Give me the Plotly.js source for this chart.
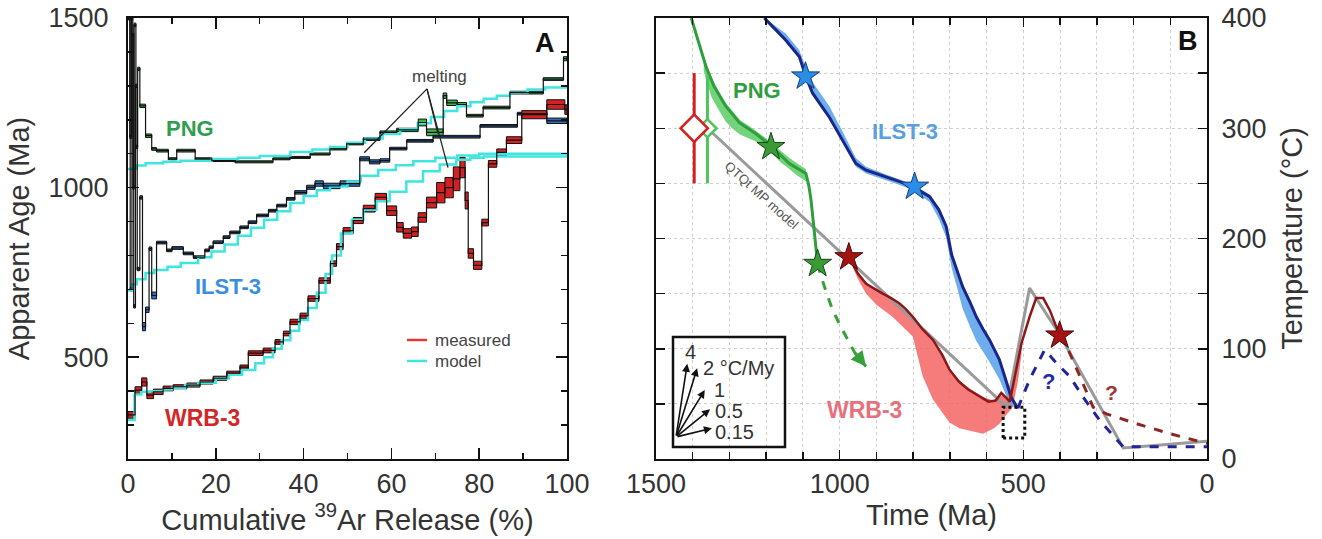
<!DOCTYPE html>
<html><head><meta charset="utf-8">
<script src="https://cdn.plot.ly/plotly-3.0.1.min.js"></script>
<style>html,body{margin:0;padding:0;background:#fff}#chart{width:1322px;height:539px}</style>
</head><body><div id="chart"></div>
<script>
// ================= Panel A : 40Ar/39Ar age spectra =================
// step boundaries (cumulative 39Ar %), apparent ages (Ma), box half-heights (Ma)
const pngEdges = [0,0.4,0.8,1.1,1.4,1.8,2.2,2.7,4.0,5.4,6.5,9.2,11.1,15.3,19.1,24.4,33.0,36.9,41.5,46.0,49.8,53.6,57.4,61.2,66.1,68.0,71.8,72.6,75.0,77.1,80.9,87.0,94.6,99.2,100];
const pngAges  = [1500,1150,1500,1000,1480,1120,1350,1241,1153,1114,1109,1085,1109,1085,1080,1076,1085,1089,1099,1114,1129,1143,1163,1170,1192,1163,1271,1250,1245,1212,1236,1280,1320,1380];
const pngErrs  = [5,5,5,5,5,5,5,5,5,4,4,3,4,3,3,3,3,3,3,3,3,4,4,5,10,10,8,8,6,4,4,4,4,6];

const ilstEdges = [0,0.5,0.9,1.3,1.7,2.1,2.7,3.3,4.0,4.8,5.4,6.5,8.8,10.0,12.6,14.9,17.5,18.5,19.4,21.7,23.2,25.5,27.4,29.3,32.0,33.9,36.1,38.0,40.7,42.6,44.5,48.3,52.8,55.0,57.4,59.6,63.5,69.5,80.2,88.7,95.4,100];
const ilstAges  = [1500,700,1450,650,1300,760,971,590,640,820,682,838,815,822,806,795,815,824,839,854,868,883,898,918,932,947,967,986,1001,1012,1005,1012,1085,1076,1080,1115,1138,1150,1182,1218,1197];
const ilstErrs  = [5,5,5,5,5,5,5,12,8,5,10,4,4,4,4,4,4,4,4,4,4,4,4,4,4,4,4,5,6,8,8,8,6,6,5,4,4,4,4,4,8];

const wrbEdges = [0,1.6,3.1,4.3,5.8,8.0,10.3,13.4,16.4,19.4,22.5,25.5,27.4,30.8,33.5,35.4,36.9,39.2,41.0,43.5,46.1,47.5,49.0,51.3,53.6,56.3,58.9,61.2,62.7,64.6,66.1,68.0,70.3,72.2,74.1,75.6,76.8,77.5,78.7,80.6,82.1,84.0,86.2,89.7,95.4,99.5,100];
const wrbAges  = [330,403,427,388,398,408,413,418,427,438,453,471,512,520,545,570,604,622,673,726,776,826,873,903,938,971,932,883,865,870,912,956,985,1000,1026,1059,962,806,771,897,1070,1104,1140,1215,1245,1230];
const wrbErrs  = [10,10,12,10,8,7,6,6,6,6,6,6,7,7,7,7,8,8,8,8,8,9,9,9,10,12,14,14,14,14,14,16,30,30,35,30,25,14,12,10,10,10,10,12,14,14];

// model spectra
const pngModelX  = [0,2,4,8,12,19,25,30,37,42,46,50,54,58,62,66,69,72,75,78,81,84,87,91,95,100];
const pngModelY  = [1055,1065,1072,1076,1079,1084,1088,1093,1105,1112,1120,1132,1145,1158,1172,1190,1208,1226,1240,1252,1262,1271,1280,1289,1295,1300];
const ilstModelX = [0,1,2,4,6,9,12,16,19,22,25,28,31,34,37,40,43,46,50,53,57,61,65,70,75,80,100];
const ilstModelY = [697,715,730,748,757,767,778,795,812,832,858,882,905,930,955,975,992,1003,1018,1035,1052,1066,1078,1088,1095,1100,1102];
const wrbModelX  = [0,1.5,3,5,8,10,13,16,20,23,26,29,31,33,35,37,39,41,43,45,46.5,48.5,51,53.6,56.6,59.6,63.4,67.2,71,74.8,78,81,100];
const wrbModelY  = [315,390,398,400,405,410,418,425,437,448,462,482,500,525,550,578,610,645,690,745,800,865,905,935,960,988,1018,1048,1068,1082,1088,1092,1092];

// "melting" pointer: label anchor and targets (cum %, Ma)
const meltApex    = [68.1, 1291];
const meltTargetX = [53.8, 70.6, 72.9];
const meltTargetY = [1103, 1159, 1059];

// ================= Panel B : thermal histories =================
const pngT   = [1404,1383,1364,1342,1310,1273,1228,1187,1137,1092,1084,1078,1069,1060];
const pngC   = [400,377,356,338,320,305,295,284,268,259,248,235,205,177];
const pngBandT  = [1370,1350,1330,1310,1290,1270,1250,1228,1205,1187,1160,1137,1115,1092];
const pngBandHi = [365,347,334,323,315,307,303,298,292,287,279,273,268,263];
const pngBandLo = [352,329,317,306,299,294,291,288,283,278,269,263,257,252];
const pngDashT = [1060,1050,1035,1019,1000,983,960,940,928];
const pngDashC = [177,165,150,135,122,111,97,88,84];

const ilstT  = [1205,1175,1147,1110,1092,1074,1050,1028,992,956,928,900,874,840,801,755,730,710,695,680,665,645,628,610,592,565,546,533,515];
const ilstC  = [400,390,380,365,347,332,320,310,289,268,262,259,256,252,247,238,226,211,185,170,156,142,129,118,108,90,69,56,46];
const ilstBandHi = [400,393,386,371,355,342,330,320,297,273,265,261,258,254,249,240,228,213,187,172,158,144,131,120,110,92,71,58,46];
const ilstBandLo = [398,388,378,363,345,330,318,308,286,265,259,256,253,249,244,233,218,201,173,155,136,120,107,98,88,72,57,48,46];
const ilstDashT = [515,483,442,410,374,337,292,228,0];
const ilstDashC = [46,72,99,87,75,56,35,11,11];

const wrbT   = [975,950,928,905,883,860,837,820,801,775,746,720,701,675,650,620,595,575,560,548,537,523,505,483,465,455,446,428,401];
const wrbC   = [183,168,159,154,150,146,141,136,129,118,108,94,81,70,63,57,52,53,60,56,52,75,105,129,146,146,146,135,112];
const wrbBandT  = [975,950,928,900,856,801,774,746,701,674,646,610,580,565,551,540,529,515,505];
const wrbBandHi = [184,170,160,153,143,130,119,109,82,71,64,56,53,58,57,53,65,90,105];
const wrbBandLo = [182,163,150,140,129,111,75,54,33,28,26,23,28,32,38,42,47,70,95];
const wrbDashT = [401,383,350,310,274,192,101,0];
const wrbDashC = [112,103,78,47,41,32,23,14];

const mpModelT = [1360,545,483,401,228,0];
const mpModelC = [300,47,155,113,10,16];

const starPngT = [1187,1060], starPngC = [283,177];
const starIlstT = [1093,796], starIlstC = [347,247];
const starWrbT = [975,401],  starWrbC = [183,112];

const constrRed   = {t:[1396], c:[300], up:[50], down:[50]};
const constrGreen = {t:[1360], c:[300], up:[48], down:[50]};
const boxT = [555,496], boxC = [19,47];

const rates = [4,2,1,0.5,0.15];
const rateLabels = ['4','2 °C/My','1','0.5','0.15'];

// ================= build =================
const FF = '"Liberation Sans", Arial, Helvetica, sans-serif';
const W = 1322, H = 539;
const px = (x)=>x/W, py = (y)=>1-y/H;

const traces = [];
function model(x,y){ traces.push({type:'scatter',mode:'lines',x,y,line:{shape:'hv',color:'#3fe6df',width:2.5},xaxis:'x',yaxis:'y',hoverinfo:'skip'}); }
function stepLine(edges,ages){ traces.push({type:'scatter',mode:'lines',x:edges,y:ages.concat([ages[ages.length-1]]),line:{shape:'hv',color:'#111',width:1.2},xaxis:'x',yaxis:'y',hoverinfo:'skip'}); }
function boxes(edges,ages,errs,color){
  const x=[],w=[],base=[],h=[];
  for(let i=0;i<ages.length;i++){x.push((edges[i]+edges[i+1])/2);w.push(edges[i+1]-edges[i]);base.push(ages[i]-errs[i]);h.push(2*errs[i]);}
  traces.push({type:'bar',x,y:h,base,width:w,marker:{color,line:{color:'#111',width:1}},xaxis:'x',yaxis:'y',hoverinfo:'skip'});
}
model(pngModelX,pngModelY); model(ilstModelX,ilstModelY); model(wrbModelX,wrbModelY);
stepLine(pngEdges,pngAges); stepLine(ilstEdges,ilstAges); stepLine(wrbEdges,wrbAges);
boxes(pngEdges,pngAges,pngErrs,'#3cb44b'); boxes(ilstEdges,ilstAges,ilstErrs,'#2f6fc0'); boxes(wrbEdges,wrbAges,wrbErrs,'#d42020');

// Panel B
function band(t,hi,lo,color){
  traces.push({type:'scatter',mode:'lines',x:t.concat(t.slice().reverse()),y:hi.concat(lo.slice().reverse()),fill:'toself',fillcolor:color,line:{width:0},xaxis:'x2',yaxis:'y2',hoverinfo:'skip'});
}
function path(t,c,color,width,dash){
  traces.push({type:'scatter',mode:'lines',x:t,y:c,line:{color,width,dash:dash||'solid'},xaxis:'x2',yaxis:'y2',hoverinfo:'skip'});
}
band(wrbBandT,wrbBandHi,wrbBandLo,'rgba(244,100,100,0.85)');
band(ilstT,ilstBandHi,ilstBandLo,'rgba(95,165,235,0.9)');
band(pngBandT,pngBandHi,pngBandLo,'rgba(90,205,100,0.85)');
path(mpModelT,mpModelC,'#9a9a9a',3);
path(ilstDashT,ilstDashC,'#23239a',3,'dash');
path(wrbDashT,wrbDashC,'#8e2424',3,'dash');
path(pngDashT,pngDashC,'#36a03a',3,'dash');
path(pngT,pngC,'#2f9e3c',3);
path(ilstT,ilstC,'#1a268a',3);
path(wrbT,wrbC,'#8b1818',2.5);
traces.push({type:'scatter',mode:'lines',x:[boxT[0],boxT[1],boxT[1],boxT[0],boxT[0]],y:[boxC[0],boxC[0],boxC[1],boxC[1],boxC[0]],line:{color:'#111',width:3,dash:'dot'},xaxis:'x2',yaxis:'y2',hoverinfo:'skip'});
function constraint(o,color,size){
  traces.push({type:'scatter',mode:'markers',x:o.t,y:o.c,error_y:{type:'data',symmetric:false,array:o.up,arrayminus:o.down,color,thickness:3,width:0},marker:{symbol:'diamond',size,color:'white',line:{color,width:2.5}},xaxis:'x2',yaxis:'y2',hoverinfo:'skip'});
}
constraint(constrGreen,'#4cc45a',14);
constraint(constrRed,'#d42020',21);
function stars(t,c,fill,edge){
  traces.push({type:'scatter',mode:'markers',x:t,y:c,marker:{symbol:'star',size:21,color:fill,line:{color:edge,width:1}},xaxis:'x2',yaxis:'y2',hoverinfo:'skip'});
}
stars(starPngT,starPngC,'#3a9a36','#17461a');
stars(starIlstT,starIlstC,'#2a8ee6','#163a7a');
stars(starWrbT,starWrbC,'#a51212','#4a0808');

const tickFont = {family:FF,size:27,color:'#333'};
const titleFont = {family:FF,size:29,color:'#333'};
const axBase = {showline:true,linecolor:'#111',linewidth:2,mirror:'allticks',ticks:'inside',tickcolor:'#111',tickwidth:1.5,zeroline:false,tickfont:tickFont,fixedrange:true};
const gridStyle = {gridcolor:'#cfcfcf',griddash:'3px,3px',gridwidth:1};
const yDom = [80/H, 521/H];

const annotations = [];
const txt = (x,y,text,size,color,bold,extra)=>annotations.push(Object.assign({xref:'paper',yref:'paper',x:px(x),y:py(y),xanchor:'center',yanchor:'middle',text:bold?'<b>'+text+'</b>':text,showarrow:false,font:{family:FF,size,color}},extra||{}));
txt(545,43,'A',27,'#111',true);
txt(1188,41,'B',27,'#111',true);
txt(190,128,'PNG',22,'#2e9e4e',true);
txt(228,286,'ILST-3',22,'#3a8ee0',true);
txt(202,418,'WRB-3',23,'#d02828',true);
txt(440,77,'melting',17,'#444',false);
txt(433,340,'measured',17,'#444',false,{xanchor:'left'});
txt(433,361,'model',17,'#444',false,{xanchor:'left'});
txt(757,91,'PNG',22,'#2e9e3e',true);
txt(905,131,'ILST-3',22,'#5a9fe0',true);
txt(865,410,'WRB-3',23,'#e8707c',true);
txt(762,195,'QTQt MP model',13,'#555',false,{textangle:42});
txt(1048,381,'?',22,'#2a2aa8',true);
txt(1111,392,'?',21,'#a03535',true);
// inset key
const org = [676,437], lens = [74,72,55,44,37];
rates.forEach((r,i)=>{
  const th = Math.atan(1.63*r), dx = lens[i]*Math.cos(th), dy = lens[i]*Math.sin(th);
  annotations.push({xref:'paper',yref:'paper',x:px(org[0]+dx),y:py(org[1]-dy),ax:-dx,ay:dy,text:'',showarrow:true,arrowhead:2,arrowsize:1,arrowwidth:1.6,arrowcolor:'#111'});
});
const labPos = [[683,352],[701,368],[712,390],[713,411],[713,432]];
rateLabels.forEach((l,i)=>txt(labPos[i][0],labPos[i][1],l,20,'#333',false,{xanchor:'left'}));
// arrow head on green dashed path
const n = pngDashT.length;
annotations.push({xref:'x2',yref:'y2',axref:'x2',ayref:'y2',x:pngDashT[n-1],y:pngDashC[n-1],ax:pngDashT[n-3],ay:pngDashC[n-3],text:'',showarrow:true,arrowhead:2,arrowsize:1,arrowwidth:3,arrowcolor:'#36a03a'});

const shapes = [];
meltTargetX.forEach((x,i)=>shapes.push({type:'line',xref:'x',yref:'y',x0:meltApex[0],y0:meltApex[1],x1:x,y1:meltTargetY[i],line:{color:'#222',width:1.3}}));
shapes.push({type:'line',xref:'paper',yref:'paper',x0:px(407),x1:px(427),y0:py(340),y1:py(340),line:{color:'#e03a3a',width:2.5}});
shapes.push({type:'line',xref:'paper',yref:'paper',x0:px(407),x1:px(427),y0:py(361),y1:py(361),line:{color:'#3fe6df',width:2.5}});
shapes.push({type:'rect',xref:'paper',yref:'paper',x0:px(673),x1:px(785),y0:py(447),y1:py(337),line:{color:'#111',width:2.5}});

const layout = {
  width:W,height:H,margin:{l:0,r:0,t:0,b:0},paper_bgcolor:'#fff',plot_bgcolor:'#fff',
  showlegend:false,barmode:'overlay',bargap:0,font:{family:FF,color:'#333'},
  xaxis:Object.assign({},axBase,{domain:[128/W,567/W],range:[0,100],tick0:0,dtick:20,ticklen:11,anchor:'y',showgrid:false,
    minor:{dtick:10,ticklen:6,ticks:'inside',tickcolor:'#111',showgrid:false},
    title:{text:'Cumulative <sup>39</sup>Ar Release (%)',font:titleFont,standoff:2}}),
  yaxis:Object.assign({},axBase,{domain:yDom,range:[200,1500],tick0:0,dtick:500,ticklen:11,anchor:'x',showgrid:false,ticklabelstandoff:12,
    minor:{dtick:100,ticklen:6,ticks:'inside',tickcolor:'#111',showgrid:false},
    title:{text:'Apparent Age (Ma)',font:titleFont,standoff:10}}),
  xaxis2:Object.assign({},axBase,gridStyle,{domain:[656/W,1207/W],range:[1500,0],tick0:0,dtick:500,ticklen:9,anchor:'y2',showgrid:true,
    minor:Object.assign({dtick:100,ticklen:7,ticks:'inside',tickcolor:'#111',showgrid:true},gridStyle),
    title:{text:'Time (Ma)',font:titleFont,standoff:2}}),
  yaxis2:Object.assign({},axBase,gridStyle,{domain:yDom,range:[0,400],tick0:0,dtick:100,ticklen:9,anchor:'x2',side:'right',showgrid:true,ticklabelstandoff:7,
    minor:Object.assign({dtick:50,ticklen:9,ticks:'inside',tickcolor:'#111',showgrid:true},gridStyle),
    title:{text:'Temperature (°C)',font:titleFont,standoff:16}}),
  annotations,shapes
};
Plotly.newPlot('chart',traces,layout,{displayModeBar:false,staticPlot:true});
</script></body></html>
